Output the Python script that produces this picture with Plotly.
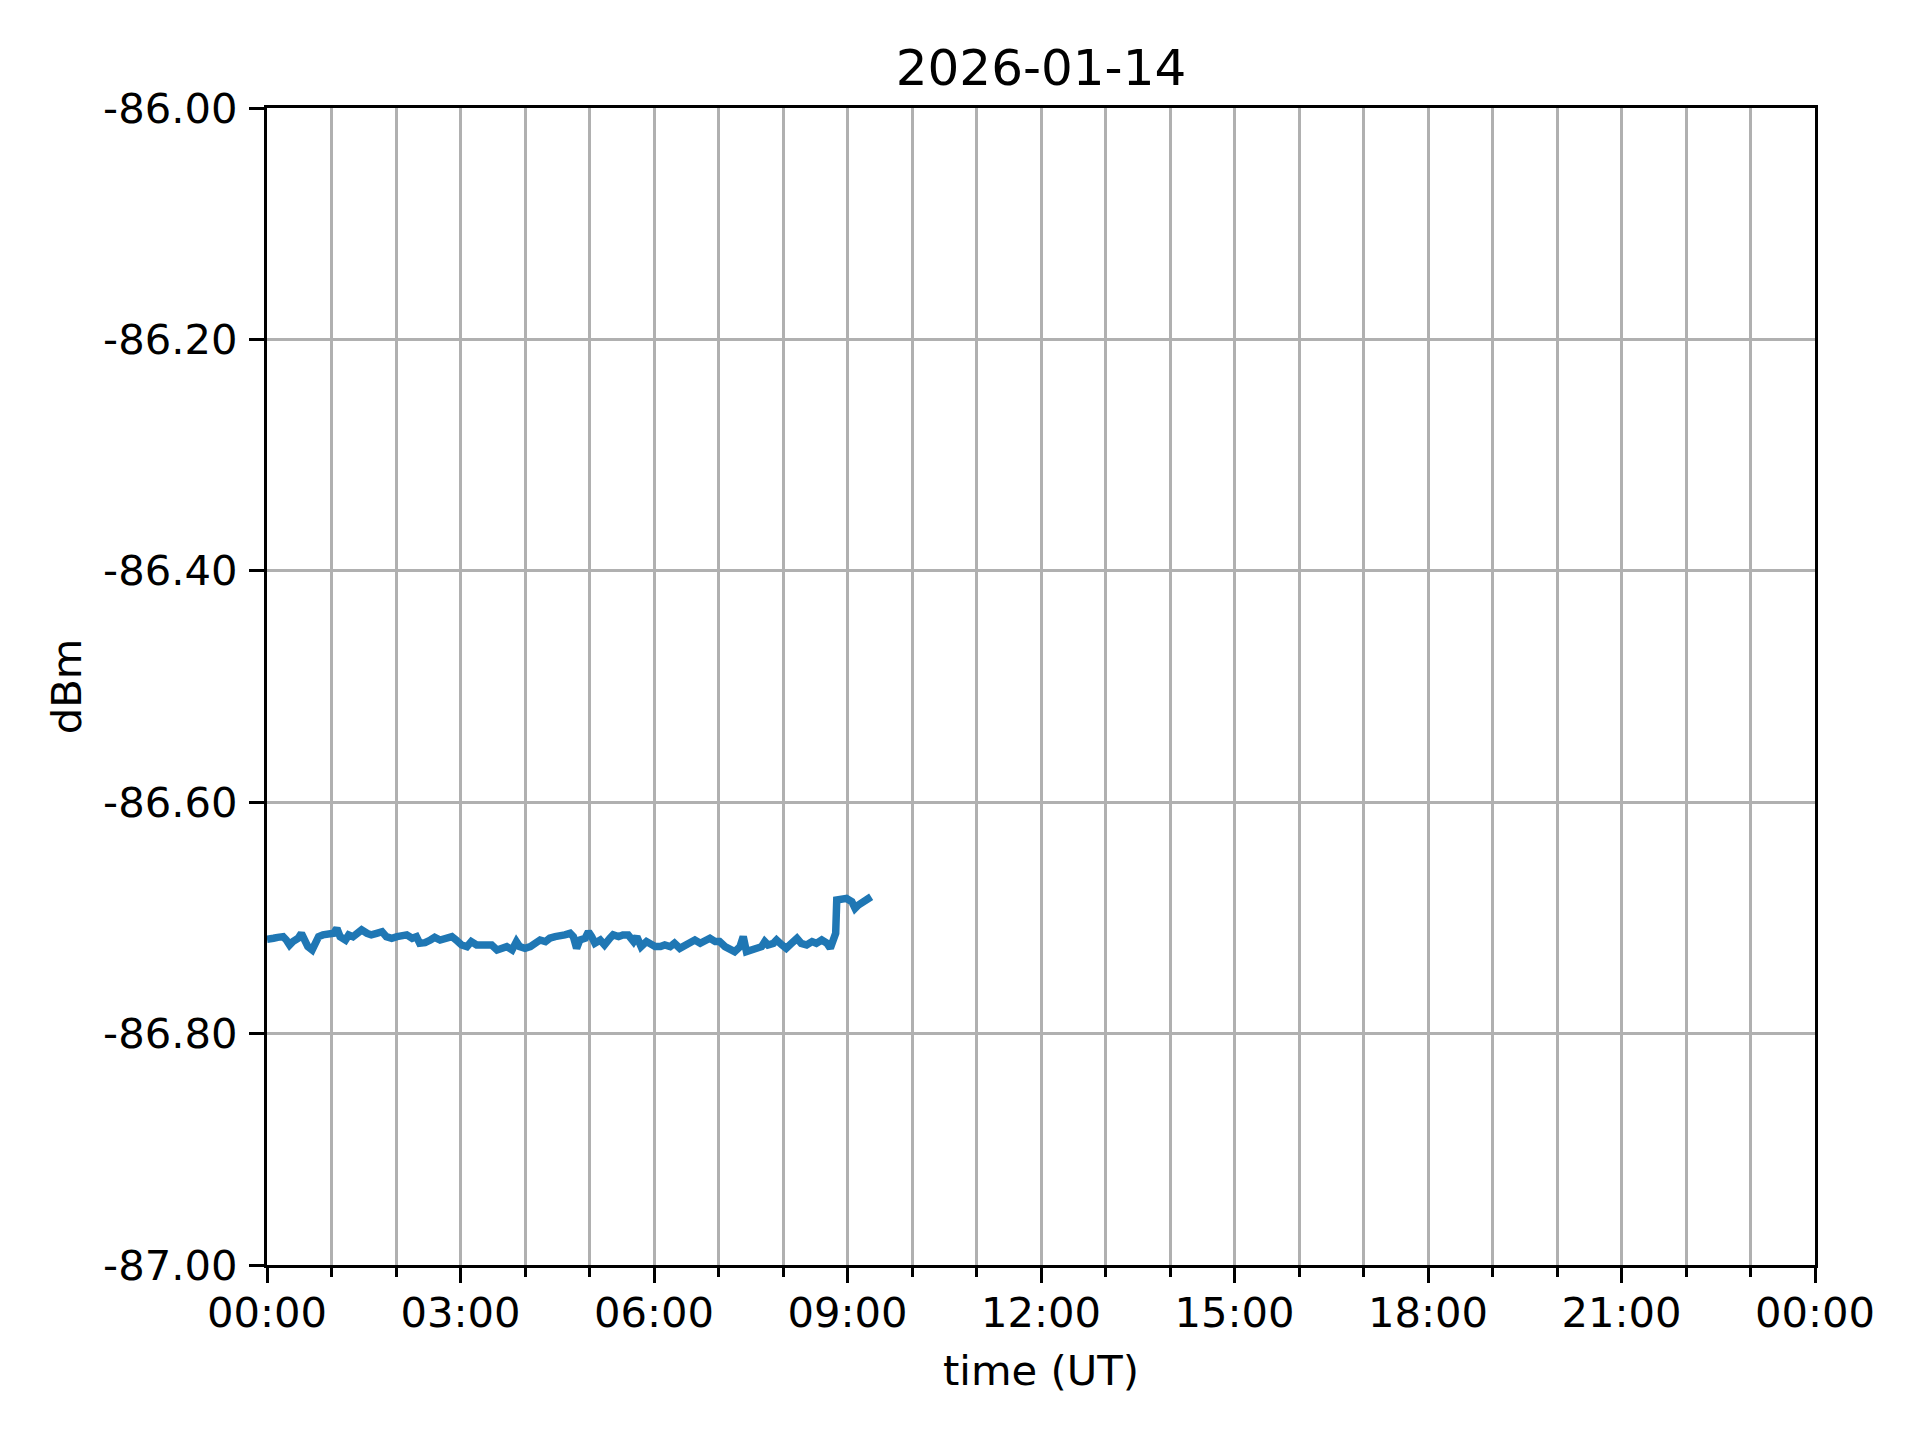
import plotly.graph_objects as go

DAY = "2026-01-14"
NEXT_DAY = "2026-01-15"

times = [
    "00:00", "00:01", "00:06", "00:10", "00:15", "00:18", "00:21", "00:24", "00:29", "00:32",
    "00:35", "00:38", "00:42", "00:45", "00:48", "00:52", "00:57", "01:02", "01:05", "01:08",
    "01:13", "01:16", "01:20", "01:25", "01:28", "01:33", "01:37", "01:42", "01:47", "01:51",
    "01:56", "02:01", "02:05", "02:10", "02:15", "02:19", "02:22", "02:27", "02:32", "02:36",
    "02:41", "02:46", "02:52", "02:56", "03:01", "03:06", "03:10", "03:15", "03:20", "03:24",
    "03:29", "03:34", "03:38", "03:43", "03:48", "03:52", "03:55", "04:00", "04:05", "04:09",
    "04:14", "04:19", "04:23", "04:28", "04:33", "04:37", "04:42", "04:45", "04:48", "04:51",
    "04:56", "04:59", "05:02", "05:05", "05:10", "05:14", "05:19", "05:22", "05:27", "05:31",
    "05:36", "05:41", "05:44", "05:48", "05:53", "05:56", "06:01", "06:06", "06:10", "06:15",
    "06:19", "06:24", "06:29", "06:33", "06:38", "06:43", "06:47", "06:52", "06:57", "07:01",
    "07:06", "07:11", "07:15", "07:20", "07:23", "07:26", "07:31", "07:35", "07:40", "07:43",
    "07:46", "07:51", "07:54", "07:59", "08:03", "08:08", "08:13", "08:17", "08:22", "08:27",
    "08:31", "08:36", "08:41", "08:44", "08:47", "08:49", "08:50", "08:55", "08:59", "09:04",
    "09:07", "09:10", "09:13", "09:18", "09:22",
]

dbm = [
    -86.7185, -86.7185, -86.7176, -86.7168, -86.7162, -86.7191, -86.7234, -86.7205, -86.7176, -86.7133,
    -86.7191, -86.7248, -86.7277, -86.7205, -86.7162, -86.7147, -86.7147, -86.7133, -86.7090, -86.7162,
    -86.7191, -86.7147, -86.7162, -86.7119, -86.7104, -86.7133, -86.7147, -86.7133, -86.7119, -86.7162,
    -86.7176, -86.7162, -86.7156, -86.7147, -86.7176, -86.7162, -86.7219, -86.7214, -86.7191, -86.7168,
    -86.7191, -86.7185, -86.7162, -86.7191, -86.7234, -86.7248, -86.7205, -86.7234, -86.7234, -86.7248,
    -86.7234, -86.7277, -86.7263, -86.7248, -86.7277, -86.7205, -86.7248, -86.7263, -86.7248, -86.7219,
    -86.7191, -86.7205, -86.7176, -86.7162, -86.7162, -86.7147, -86.7133, -86.7162, -86.7263, -86.7191,
    -86.7176, -86.7119, -86.7162, -86.7219, -86.7191, -86.7234, -86.7176, -86.7147, -86.7162, -86.7147,
    -86.7147, -86.7205, -86.7162, -86.7248, -86.7205, -86.7219, -86.7248, -86.7248, -86.7234, -86.7248,
    -86.7219, -86.7263, -86.7234, -86.7205, -86.7191, -86.7219, -86.7205, -86.7176, -86.7205, -86.7205,
    -86.7248, -86.7263, -86.7292, -86.7249, -86.7162, -86.7292, -86.7277, -86.7263, -86.7249, -86.7205,
    -86.7234, -86.7220, -86.7191, -86.7234, -86.7263, -86.7220, -86.7177, -86.7220, -86.7234, -86.7205,
    -86.7220, -86.7191, -86.7220, -86.7263, -86.7177, -86.7133, -86.6845, -86.6845, -86.6831, -86.6860,
    -86.6917, -86.6889, -86.6874, -86.6831, -86.6817,
]

y_tick_vals = [-87.0, -86.8, -86.6, -86.4, -86.2, -86.0]
y_tick_text = ["-87.00", "-86.80", "-86.60", "-86.40", "-86.20", "-86.00"]

x = [f"{DAY} {t}" for t in times]

FONT = "DejaVu Sans"
TICK_SIZE = 41.7
GRID = "#b0b0b0"

fig = go.Figure()
fig.add_trace(go.Scatter(
    x=x, y=dbm, mode="lines",
    line=dict(color="#1f77b4", width=7.5),
    showlegend=False,
))

fig.update_layout(
    width=1920, height=1440,
    margin=dict(l=259, r=113, t=100, b=183),
    paper_bgcolor="white", plot_bgcolor="white",
    font=dict(family=FONT, size=TICK_SIZE, color="black"),
    title=dict(text=DAY, x=0.5, xref="paper", xanchor="center",
               y=1 - 59 / 1440, yref="container", yanchor="middle",
               font=dict(family=FONT, size=50, color="black")),
)

fig.update_xaxes(
    type="date",
    range=[f"{DAY} 00:00", f"{NEXT_DAY} 00:00"],
    dtick=3 * 3600 * 1000,
    tick0=f"{DAY} 00:00",
    tickformat="%H:%M",
    ticks="outside", ticklen=15, tickwidth=3.3, tickcolor="black",
    ticklabelstandoff=-6,
    showline=True, linecolor="black", linewidth=3.3, mirror=True,
    showgrid=True, gridcolor=GRID, gridwidth=3.3,
    zeroline=False,
    minor=dict(dtick=3600 * 1000, tick0=f"{DAY} 00:00", ticks="outside",
               ticklen=8.5, tickwidth=2.5, tickcolor="black",
               showgrid=True, gridcolor=GRID, gridwidth=3.3),
    title=dict(text="time (UT)", standoff=20, font=dict(family=FONT, size=TICK_SIZE)),
    tickfont=dict(family=FONT, size=TICK_SIZE),
)

fig.update_yaxes(
    range=[-87.0, -86.0],
    tickvals=y_tick_vals, ticktext=y_tick_text,
    ticks="outside", ticklen=15, tickwidth=3.3, tickcolor="black",
    ticklabelstandoff=3,
    showline=True, linecolor="black", linewidth=3.3, mirror=True,
    showgrid=True, gridcolor=GRID, gridwidth=3.3,
    zeroline=False,
    title=dict(text="dBm", standoff=9, font=dict(family=FONT, size=TICK_SIZE)),
    tickfont=dict(family=FONT, size=TICK_SIZE),
)

fig.write_html("out.html")
